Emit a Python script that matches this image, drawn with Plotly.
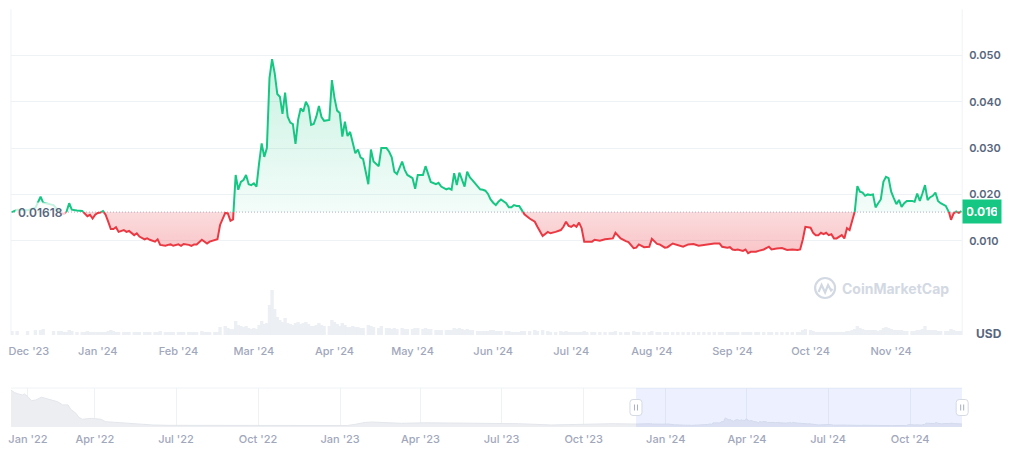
import numpy as np
import pandas as pd
import plotly.graph_objects as go

W, H = 1024, 449

# ---------------- data ----------------
price_dates = [
    "2023-11-29",
    "2023-12-01", "2023-12-05", "2023-12-08", "2023-12-10", "2023-12-11", "2023-12-15", "2023-12-17", "2023-12-18",
    "2023-12-19", "2023-12-20", "2023-12-21", "2023-12-22", "2023-12-24", "2023-12-26", "2023-12-27", "2023-12-28",
    "2023-12-29", "2023-12-30", "2023-12-31",
    "2024-01-01", "2024-01-02", "2024-01-03", "2024-01-04", "2024-01-05", "2024-01-06", "2024-01-07", "2024-01-08",
    "2024-01-09", "2024-01-11", "2024-01-12", "2024-01-13", "2024-01-15", "2024-01-16", "2024-01-17", "2024-01-19",
    "2024-01-20", "2024-01-21", "2024-01-23", "2024-01-24", "2024-01-25", "2024-01-27", "2024-01-28", "2024-01-29",
    "2024-01-30",
    "2024-02-01", "2024-02-02", "2024-02-03", "2024-02-05", "2024-02-06", "2024-02-07", "2024-02-08", "2024-02-10",
    "2024-02-11", "2024-02-12", "2024-02-13", "2024-02-15", "2024-02-16", "2024-02-17", "2024-02-19", "2024-02-20",
    "2024-02-21", "2024-02-22", "2024-02-23", "2024-02-24", "2024-02-25", "2024-02-26", "2024-02-27", "2024-02-28",
    "2024-02-29",
    "2024-03-01", "2024-03-02", "2024-03-03", "2024-03-04", "2024-03-05", "2024-03-06", "2024-03-07", "2024-03-08",
    "2024-03-09", "2024-03-10", "2024-03-11", "2024-03-12", "2024-03-13", "2024-03-14", "2024-03-15", "2024-03-16",
    "2024-03-17", "2024-03-18", "2024-03-19", "2024-03-20", "2024-03-21", "2024-03-22", "2024-03-23", "2024-03-24",
    "2024-03-25", "2024-03-26", "2024-03-27", "2024-03-28", "2024-03-30", "2024-03-31",
    "2024-04-01", "2024-04-02", "2024-04-03", "2024-04-04", "2024-04-05", "2024-04-06", "2024-04-07", "2024-04-08",
    "2024-04-09", "2024-04-10", "2024-04-11", "2024-04-12", "2024-04-14", "2024-04-15", "2024-04-16", "2024-04-18",
    "2024-04-19", "2024-04-21", "2024-04-22", "2024-04-23", "2024-04-24", "2024-04-25", "2024-04-27", "2024-04-28",
    "2024-04-29",
    "2024-05-01", "2024-05-02", "2024-05-03", "2024-05-05", "2024-05-06", "2024-05-07", "2024-05-08", "2024-05-10",
    "2024-05-11", "2024-05-12", "2024-05-14", "2024-05-15", "2024-05-16", "2024-05-17", "2024-05-18", "2024-05-19",
    "2024-05-20", "2024-05-21", "2024-05-22", "2024-05-23", "2024-05-24", "2024-05-26", "2024-05-27", "2024-05-28",
    "2024-05-29", "2024-05-30", "2024-05-31",
    "2024-06-01", "2024-06-02", "2024-06-03", "2024-06-04", "2024-06-06", "2024-06-07", "2024-06-08", "2024-06-09",
    "2024-06-10", "2024-06-11", "2024-06-12", "2024-06-13", "2024-06-15", "2024-06-17", "2024-06-18", "2024-06-20",
    "2024-06-22", "2024-06-23", "2024-06-25", "2024-06-27", "2024-06-28", "2024-06-29", "2024-06-30",
    "2024-07-01", "2024-07-02", "2024-07-03", "2024-07-04", "2024-07-05", "2024-07-06", "2024-07-07", "2024-07-09",
    "2024-07-10", "2024-07-12", "2024-07-14", "2024-07-16", "2024-07-17", "2024-07-18", "2024-07-20", "2024-07-22",
    "2024-07-23", "2024-07-25", "2024-07-26", "2024-07-27", "2024-07-29", "2024-07-31",
    "2024-08-01", "2024-08-03", "2024-08-04", "2024-08-06", "2024-08-07", "2024-08-09", "2024-08-11", "2024-08-13",
    "2024-08-15", "2024-08-17", "2024-08-19", "2024-08-21", "2024-08-23", "2024-08-25", "2024-08-27", "2024-08-28",
    "2024-08-30", "2024-08-31",
    "2024-09-01", "2024-09-02", "2024-09-03", "2024-09-05", "2024-09-06", "2024-09-07", "2024-09-08", "2024-09-10",
    "2024-09-11", "2024-09-13", "2024-09-15", "2024-09-16", "2024-09-18", "2024-09-20", "2024-09-22", "2024-09-24",
    "2024-09-26", "2024-09-27", "2024-09-28", "2024-09-29",
    "2024-10-01", "2024-10-02", "2024-10-03", "2024-10-04", "2024-10-05", "2024-10-06", "2024-10-07", "2024-10-08",
    "2024-10-09", "2024-10-10", "2024-10-11", "2024-10-12", "2024-10-13", "2024-10-14", "2024-10-15", "2024-10-16",
    "2024-10-17", "2024-10-18", "2024-10-19", "2024-10-20", "2024-10-21", "2024-10-22", "2024-10-23", "2024-10-24",
    "2024-10-25", "2024-10-26", "2024-10-27", "2024-10-28", "2024-10-29", "2024-10-30", "2024-10-31",
    "2024-11-01", "2024-11-02", "2024-11-03", "2024-11-04", "2024-11-05", "2024-11-06", "2024-11-07", "2024-11-09",
    "2024-11-10", "2024-11-11", "2024-11-12", "2024-11-13", "2024-11-14", "2024-11-15", "2024-11-16", "2024-11-17",
    "2024-11-18", "2024-11-19", "2024-11-20", "2024-11-22", "2024-11-23", "2024-11-24", "2024-11-25", "2024-11-26",
    "2024-11-27", "2024-11-28",
]

price_usd = [
    0.01618,
    0.0167, 0.0166, 0.0171, 0.0195, 0.0182, 0.0177, 0.0163, 0.0159, 0.0158, 0.0163, 0.0181, 0.0167, 0.0165, 0.0164,
    0.0159, 0.0153, 0.0156, 0.0148, 0.0156,
    0.0160, 0.0161, 0.0164, 0.0156, 0.0141, 0.0125, 0.0125, 0.0129, 0.0119, 0.0123, 0.0119, 0.0121, 0.0112, 0.0116,
    0.0109, 0.0103, 0.0105, 0.0102, 0.0098, 0.0103, 0.0091, 0.0089, 0.0091, 0.0092, 0.0089,
    0.0092, 0.0089, 0.0093, 0.0091, 0.0089, 0.0092, 0.0092, 0.0102, 0.0097, 0.0094, 0.0098, 0.0102, 0.0103, 0.0134,
    0.0160, 0.0159, 0.0143, 0.0146, 0.0242, 0.0210, 0.0227, 0.0231, 0.0242, 0.0222, 0.0220,
    0.0224, 0.0217, 0.0267, 0.0310, 0.0281, 0.0300, 0.0451, 0.0492, 0.0462, 0.0417, 0.0411, 0.0374, 0.0420, 0.0368,
    0.0355, 0.0352, 0.0309, 0.0361, 0.0386, 0.0379, 0.0400, 0.0389, 0.0350, 0.0352, 0.0368, 0.0391, 0.0367, 0.0359,
    0.0361, 0.0447,
    0.0408, 0.0381, 0.0376, 0.0325, 0.0357, 0.0326, 0.0335, 0.0314, 0.0289, 0.0297, 0.0280, 0.0276, 0.0222, 0.0297,
    0.0271, 0.0261, 0.0300, 0.0300, 0.0292, 0.0280, 0.0249, 0.0244, 0.0271, 0.0253, 0.0242,
    0.0235, 0.0212, 0.0242, 0.0242, 0.0261, 0.0246, 0.0227, 0.0222, 0.0225, 0.0217, 0.0211, 0.0213, 0.0210, 0.0246,
    0.0220, 0.0247, 0.0231, 0.0217, 0.0249, 0.0237, 0.0231, 0.0217, 0.0211, 0.0210, 0.0208, 0.0201, 0.0189,
    0.0182, 0.0177, 0.0184, 0.0189, 0.0181, 0.0172, 0.0172, 0.0177, 0.0175, 0.0175, 0.0166, 0.0157, 0.0148, 0.0141,
    0.0130, 0.0110, 0.0119, 0.0116, 0.0119, 0.0123, 0.0130, 0.0141, 0.0132,
    0.0130, 0.0134, 0.0130, 0.0139, 0.0127, 0.0098, 0.0098, 0.0098, 0.0102, 0.0100, 0.0103, 0.0105, 0.0105, 0.0117,
    0.0105, 0.0099, 0.0097, 0.0084, 0.0085, 0.0092, 0.0086, 0.0087,
    0.0104, 0.0093, 0.0092, 0.0085, 0.0086, 0.0094, 0.0091, 0.0087, 0.0092, 0.0093, 0.0089, 0.0091, 0.0093, 0.0094,
    0.0094, 0.0087, 0.0085, 0.0086,
    0.0081, 0.0080, 0.0081, 0.0078, 0.0081, 0.0073, 0.0076, 0.0076, 0.0078, 0.0081, 0.0087, 0.0081, 0.0083, 0.0084,
    0.0080, 0.0081, 0.0080, 0.0081, 0.0102, 0.0130,
    0.0128, 0.0117, 0.0112, 0.0112, 0.0117, 0.0114, 0.0117, 0.0112, 0.0114, 0.0105, 0.0105, 0.0109, 0.0112, 0.0105,
    0.0127, 0.0123, 0.0141, 0.0163, 0.0218, 0.0206, 0.0204, 0.0197, 0.0200, 0.0199, 0.0200, 0.0172, 0.0181, 0.0189,
    0.0227, 0.0238, 0.0235,
    0.0206, 0.0192, 0.0179, 0.0188, 0.0173, 0.0181, 0.0186, 0.0186, 0.0184, 0.0202, 0.0186, 0.0202, 0.0220, 0.0188,
    0.0194, 0.0197, 0.0204, 0.0186, 0.0181, 0.0175, 0.0166, 0.0145, 0.0159, 0.0163, 0.0160, 0.0164,
]

volume_musd = [
    4,
    4, 4, 5, 5, 6, 4, 4, 4, 3, 3, 5, 4, 3, 3, 3, 4, 3, 3, 3,
    3, 3, 3, 3, 4, 5, 4, 3, 3, 3, 3, 3, 3, 3, 3, 3, 3, 3, 3, 3, 4, 3, 3, 3, 3,
    3, 3, 3, 3, 3, 3, 3, 4, 3, 3, 3, 3, 3, 8, 9, 7, 6, 6, 14, 10, 9, 8, 9, 7, 6,
    7, 6, 10, 14, 11, 12, 30, 45, 26, 18, 15, 13, 17, 12, 11, 10, 12, 13, 11, 12, 13, 11, 9, 9, 10, 12, 10, 9, 9, 15,
    13, 11, 9, 12, 10, 8, 8, 9, 8, 8, 7, 7, 10, 9, 8, 7, 9, 7, 7, 6, 7, 6, 7, 6, 6,
    6, 7, 7, 6, 7, 6, 6, 5, 5, 5, 5, 5, 5, 7, 6, 7, 6, 5, 6, 5, 5, 4, 4, 4, 4, 4, 5,
    5, 4, 4, 4, 4, 4, 3, 3, 3, 3, 4, 4, 4, 5, 4, 5, 4, 3, 3, 4, 3, 4, 3,
    3, 3, 3, 3, 3, 4, 3, 3, 3, 3, 3, 3, 3, 4, 3, 3, 3, 4, 3, 3, 3, 3,
    4, 3, 3, 3, 3, 3, 3, 3, 3, 3, 3, 3, 3, 3, 3, 3, 3, 3,
    3, 3, 3, 3, 3, 3, 3, 3, 3, 3, 3, 3, 3, 3, 3, 3, 3, 3, 5, 6,
    5, 4, 3, 3, 3, 3, 3, 3, 3, 3, 3, 3, 3, 3, 4, 4, 5, 6, 9, 7, 6, 5, 5, 5, 5, 5, 4, 5, 7, 8, 7,
    6, 5, 5, 5, 5, 4, 4, 4, 4, 5, 5, 6, 9, 5, 5, 5, 5, 4, 4, 4, 4, 6, 5, 4, 4, 4,
]

history_dates = [
    "2021-12-28", "2022-01-01", "2022-01-05", "2022-01-10", "2022-01-12", "2022-01-16", "2022-01-20", "2022-01-25",
    "2022-01-31", "2022-02-05", "2022-02-13", "2022-02-18", "2022-02-24", "2022-03-02", "2022-03-05", "2022-03-11",
    "2022-03-14", "2022-03-18", "2022-03-28", "2022-04-08", "2022-04-13", "2022-04-28", "2022-05-17", "2022-06-05",
    "2022-06-24", "2022-10-01", "2023-01-09", "2023-01-18", "2023-01-29", "2023-02-06", "2023-02-20", "2023-03-11",
    "2023-04-06", "2023-05-06", "2023-06-12", "2023-07-20", "2023-08-26", "2023-10-02", "2023-11-01",
]
history_usd = [
    0.201, 0.187, 0.180, 0.174, 0.180, 0.165, 0.143, 0.147, 0.162, 0.156, 0.147, 0.138, 0.120, 0.120, 0.096, 0.074,
    0.053, 0.042, 0.047, 0.042, 0.029, 0.023, 0.016, 0.011, 0.009, 0.008, 0.008, 0.0147, 0.025, 0.027, 0.023, 0.020,
    0.023, 0.022, 0.020, 0.018, 0.011, 0.015, 0.018,
]

main_tick_months = pd.date_range("2023-12-01", "2024-11-01", freq="MS")
nav_tick_quarters = pd.date_range("2022-01-01", "2024-10-01", freq="QS")
price_ticks = [0.0, 0.01, 0.02, 0.03, 0.04, 0.05, 0.06]

assert len(price_dates) == len(price_usd) == len(volume_musd)

# ---------------- styling ----------------
GREEN = "#16c784"
RED = "#ea3943"
GRID = "#eff2f5"
AXIS_TXT = "#58667e"
DATE_TXT = "#a1a7bb"
FONT = "Inter"

view_start = pd.Timestamp("2023-11-28 15:00")
view_end = pd.Timestamp("2024-11-28 07:00")
nav_start = pd.Timestamp("2021-12-28 00:00")


def px_x(p):
    return p / W


def px_y(p):
    return 1 - p / H


X0, X1 = px_x(8), px_x(962)
PRICE_DOM = [px_y(287), px_y(9.2)]
VOL_DOM = [px_y(335), px_y(287)]
NAV_DOM = [px_y(427), px_y(388)]

t = pd.to_datetime(price_dates)
v = np.array(price_usd)
base = v[0]

# insert threshold crossings so green/red segments meet at the baseline
ax, ay = [t[0]], [v[0]]
for i in range(1, len(v)):
    a, b = v[i - 1] - base, v[i] - base
    if a * b < 0:
        f = a / (a - b)
        ax.append(t[i - 1] + (t[i] - t[i - 1]) * f)
        ay.append(base)
    ax.append(t[i])
    ay.append(v[i])
ay = np.array(ay)
up_line = [y if y >= base else None for y in ay]
dn_line = [y if y <= base else None for y in ay]
up_fill = np.maximum(ay, base)
dn_fill = np.minimum(ay, base)

fig = go.Figure()

base_x = [ax[0], ax[-1]]
fig.add_trace(go.Scatter(x=base_x, y=[base, base], mode="lines", line=dict(width=0),
                         xaxis="x", yaxis="y", hoverinfo="skip"))
fig.add_trace(go.Scatter(
    x=ax, y=up_fill, mode="none", fill="tonexty", xaxis="x", yaxis="y", hoverinfo="skip",
    fillgradient=dict(type="vertical", start=base, stop=0.05,
                      colorscale=[[0, "rgba(22,199,132,0.05)"], [1, "rgba(22,199,132,0.24)"]])))
fig.add_trace(go.Scatter(x=base_x, y=[base, base], mode="lines", line=dict(width=0),
                         xaxis="x", yaxis="y", hoverinfo="skip"))
fig.add_trace(go.Scatter(
    x=ax, y=dn_fill, mode="none", fill="tonexty", xaxis="x", yaxis="y", hoverinfo="skip",
    fillgradient=dict(type="vertical", start=0.007, stop=base,
                      colorscale=[[0, "rgba(234,57,67,0.30)"], [1, "rgba(234,57,67,0.18)"]])))
# dotted baseline
fig.add_trace(go.Scatter(x=[view_start, view_end], y=[base, base], mode="lines",
                         line=dict(color="#a6aec0", width=1, dash="1px,2px"),
                         xaxis="x", yaxis="y", hoverinfo="skip"))
fig.add_trace(go.Scatter(x=ax, y=up_line, mode="lines", line=dict(color=GREEN, width=2),
                         connectgaps=False, xaxis="x", yaxis="y", hoverinfo="skip"))
fig.add_trace(go.Scatter(x=ax, y=dn_line, mode="lines", line=dict(color=RED, width=2),
                         connectgaps=False, xaxis="x", yaxis="y", hoverinfo="skip"))

# volume
fig.add_trace(go.Bar(x=t, y=volume_musd, marker=dict(color="#eceff3", line=dict(width=0)),
                     width=1.3 * 86400000, xaxis="x", yaxis="y2", hoverinfo="skip"))

# navigator
nav_x = list(pd.to_datetime(history_dates)) + list(t)
nav_y = list(history_usd) + list(v)
fig.add_trace(go.Scatter(x=nav_x, y=nav_y, mode="lines", fill="tozeroy",
                         line=dict(color="#e3e6eb", width=1), fillcolor="#eceef2",
                         xaxis="x2", yaxis="y3", hoverinfo="skip"))

# ticks
main_tickvals = list(main_tick_months)
main_tickvals[0] = main_tickvals[0] + pd.Timedelta(days=4.5)  # justified inside chart
main_ticktext = [d.strftime("%b '%y") for d in main_tick_months]
nav_tickvals = list(nav_tick_quarters)
nav_tickvals[0] = nav_tickvals[0] + pd.Timedelta(days=15)
nav_ticktext = [d.strftime("%b '%y") for d in nav_tick_quarters]

fig.update_layout(
    width=W, height=H, margin=dict(l=0, r=0, t=0, b=0), autosize=False,
    paper_bgcolor="white", plot_bgcolor="rgba(0,0,0,0)", showlegend=False, hovermode=False,
    font=dict(family=FONT),
    xaxis=dict(domain=[X0, X1], anchor="y2", range=[view_start, view_end], showgrid=False, zeroline=False,
               showline=False, ticks="", tickvals=main_tickvals, ticktext=main_ticktext,
               tickfont=dict(size=11, color=DATE_TXT, weight=500), ticklabelstandoff=8),
    yaxis=dict(domain=PRICE_DOM, anchor="x", side="right", range=[0, 0.06], tickvals=price_ticks,
               ticktext=["" if (p == 0 or p == 0.06) else f"{p:.3f}" for p in price_ticks],
               showgrid=True, gridcolor=GRID, gridwidth=1, zeroline=False, showline=False, ticks="",
               tickfont=dict(size=11, color=AXIS_TXT, weight=600), ticklabelstandoff=6),
    yaxis2=dict(domain=VOL_DOM, anchor="x", range=[0, 48], showgrid=False, zeroline=False,
                showticklabels=False, ticks=""),
    xaxis2=dict(domain=[X0, X1], anchor="y3", range=[nav_start, view_end], showgrid=True, gridcolor=GRID,
                zeroline=False, showline=False, ticks="", tickvals=nav_tickvals, ticktext=nav_ticktext,
                tickfont=dict(size=11, color=DATE_TXT, weight=500), ticklabelstandoff=4),
    yaxis3=dict(domain=NAV_DOM, anchor="x2", range=[0, 0.212], showgrid=False, zeroline=False,
                showticklabels=False, ticks=""),
)

shapes = []
# plot area side borders
for xp in (8, 962):
    shapes.append(dict(type="line", xref="paper", yref="paper", x0=px_x(xp), x1=px_x(xp),
                       y0=px_y(9.2), y1=px_y(335), line=dict(color=GRID, width=1), layer="below"))
# navigator top border
shapes.append(dict(type="line", xref="paper", yref="paper", x0=X0, x1=X1, y0=NAV_DOM[1], y1=NAV_DOM[1],
                   line=dict(color=GRID, width=1), layer="below"))
# navigator selected range
shapes.append(dict(type="rect", xref="x2", yref="y3", x0=view_start, x1=view_end, y0=0, y1=0.212,
                   fillcolor="rgba(56,97,251,0.09)", line=dict(width=0), layer="above"))


def nav_paper(ts):
    frac = (ts - nav_start) / (view_end - nav_start)
    return X0 + frac * (X1 - X0)


handle_path = "M -6,-5 Q -6,-8 -3,-8 L 3,-8 Q 6,-8 6,-5 L 6,5 Q 6,8 3,8 L -3,8 Q -6,8 -6,5 Z"
grip_path = "M -1.5,-3 L -1.5,3 M 1.5,-3 L 1.5,3"
for ts in (view_start, view_end):
    xa = nav_paper(ts)
    ya = (NAV_DOM[0] + NAV_DOM[1]) / 2
    shapes.append(dict(type="path", xref="paper", yref="paper", xsizemode="pixel", ysizemode="pixel",
                       xanchor=xa, yanchor=ya, path=handle_path, fillcolor="white",
                       line=dict(color="#d5dae3", width=1), layer="above"))
    shapes.append(dict(type="path", xref="paper", yref="paper", xsizemode="pixel", ysizemode="pixel",
                       xanchor=xa, yanchor=ya, path=grip_path,
                       line=dict(color="#a6b0c3", width=1), layer="above"))

# watermark logo
WM = "#d3d9e3"
shapes.append(dict(type="circle", xref="paper", yref="paper", x0=px_x(814.5), x1=px_x(834.5),
                   y0=px_y(298), y1=px_y(278), line=dict(color=WM, width=2.2), layer="below"))
wave = [(818, 292), (821, 285), (824.5, 292.5), (827.5, 285), (830.5, 290.5), (832, 289)]
wave_path = "M " + " L ".join(f"{px_x(a):.5f},{px_y(b):.5f}" for a, b in wave)
shapes.append(dict(type="path", xref="paper", yref="paper", path=wave_path,
                   line=dict(color=WM, width=2.2), layer="below"))
fig.update_layout(shapes=shapes)

annotations = [
    dict(xref="x", yref="y", x=view_start, y=base, xanchor="left", yanchor="middle", xshift=4,
         text=f"{base:.5f}", showarrow=False, bgcolor="rgba(255,255,255,0.75)", borderpad=2,
         font=dict(family=FONT, size=12, color=AXIS_TXT, weight=600)),
    dict(xref="x domain", yref="y", x=1, y=v[-1], xanchor="left", yanchor="middle",
         text=f"{v[-1]:.3f}", showarrow=False, bgcolor=GREEN, borderpad=4, width=30, height=15,
         font=dict(family=FONT, size=12, color="white", weight=700)),
    dict(xref="paper", yref="paper", x=px_x(974), y=px_y(333), xanchor="left", yanchor="middle",
         text="USD", showarrow=False, font=dict(family=FONT, size=12, color=AXIS_TXT, weight=700)),
    dict(xref="paper", yref="paper", x=px_x(839), y=px_y(288), xanchor="left", yanchor="middle",
         text="CoinMarketCap", showarrow=False, font=dict(family=FONT, size=14, color=WM, weight=700)),
]
fig.update_layout(annotations=annotations)

fig.write_html("out.html", config={"displayModeBar": False, "staticPlot": True})
